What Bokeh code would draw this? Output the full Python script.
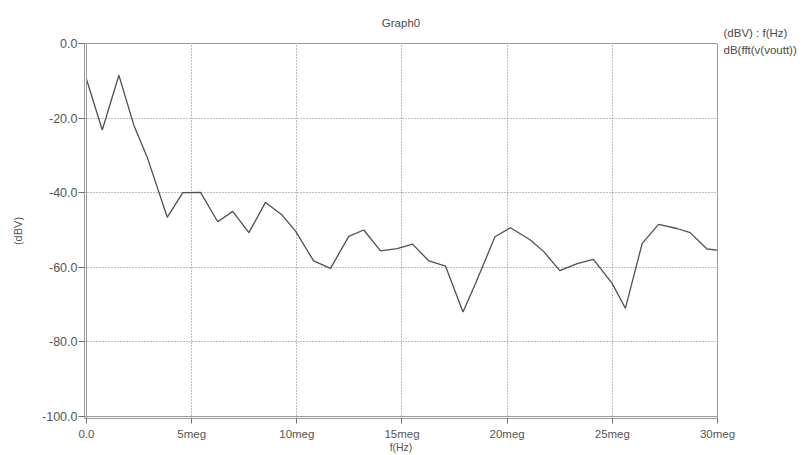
from bokeh.plotting import figure
from bokeh.models import FixedTicker, Span, Label, ColumnDataSource, Range1d
from bokeh.embed import file_html
from bokeh.resources import INLINE

# ---- data (frequency in MHz, level in dBV) ----
freq_meg = [0.0, 0.75, 1.54, 2.25, 2.88, 3.84, 4.58, 5.42, 6.24, 6.95,
            7.72, 8.51, 9.3, 9.94, 10.8, 11.6, 12.47, 13.18, 13.98, 14.77,
            15.5, 16.28, 17.07, 17.9, 18.5, 19.42, 20.16, 21.1, 21.74, 22.5,
            23.33, 24.1, 24.99, 25.62, 26.42, 27.2, 28.07, 28.7, 29.5, 30.0]
dbv = [-9.6, -23.2, -8.5, -21.9, -30.4, -46.6, -40.0, -39.9, -47.8, -45.0,
       -50.7, -42.6, -46.0, -50.3, -58.3, -60.3, -51.7, -50.0, -55.6, -55.0,
       -53.8, -58.3, -59.7, -72.0, -64.3, -51.8, -49.4, -52.7, -55.8, -60.9,
       -59.0, -57.9, -64.3, -71.0, -53.6, -48.5, -49.6, -50.7, -55.1, -55.4]

x_ticks = [0, 5, 10, 15, 20, 25, 30]
x_tick_labels = ["0.0", "5meg", "10meg", "15meg", "20meg", "25meg", "30meg"]
y_ticks = [-100, -80, -60, -40, -20, 0]
y_tick_labels = ["-100.0", "-80.0", "-60.0", "-40.0", "-20.0", "0.0"]

title_text = "Graph0"
x_label = "f(Hz)"
y_label = "(dBV)"
legend_title = "(dBV) : f(Hz)"
legend_item = "dB(fft(v(voutt))"

FONT = "Liberation Sans"
TXT = "#4a4a4a"
FRAME = "#9a9a9a"

p = figure(width=807, height=455, output_backend="svg", toolbar_location=None,
           x_range=Range1d(-0.095, 30), y_range=Range1d(-100.54, 0),
           min_border_left=84, min_border_right=90, min_border_top=43,
           min_border_bottom=37)

p.title.text = title_text
p.title.align = "center"
p.title.vertical_align = "top"
p.title.text_font = FONT
p.title.text_font_size = "11.5px"
p.title.text_font_style = "normal"
p.title.text_color = TXT
p.title.standoff = 26

p.outline_line_color = FRAME
p.outline_line_width = 1
p.background_fill_color = "white"
p.border_fill_color = "white"

src = ColumnDataSource(dict(x=freq_meg, y=dbv))
p.line("x", "y", source=src, line_color="#505050", line_width=1.3)

# axes
xa = p.xaxis[0]
xa.ticker = FixedTicker(ticks=x_ticks)
xa.major_label_overrides = {t: l for t, l in zip(x_ticks, x_tick_labels)}
ya = p.yaxis[0]
ya.ticker = FixedTicker(ticks=y_ticks)
ya.major_label_overrides = {t: l for t, l in zip(y_ticks, y_tick_labels)}

for ax in (xa, ya):
    ax.axis_line_color = FRAME
    ax.axis_line_width = 1
    ax.major_tick_line_color = "#707070"
    ax.major_tick_in = 0
    ax.major_tick_out = 6
    ax.minor_tick_line_color = None
    ax.major_label_text_font = FONT
    ax.major_label_text_color = "#555555"
    ax.axis_label_text_font = FONT
    ax.axis_label_text_font_style = "normal"
    ax.axis_label_text_color = "#555555"

xa.major_tick_out = 5
xa.major_label_standoff = 4
xa.major_label_text_font_size = "11.5px"
xa.axis_label = x_label
xa.axis_label_text_font_size = "10.5px"
xa.axis_label_standoff = -2

ya.major_label_standoff = 1
ya.major_label_text_font_size = "12.5px"
ya.axis_label = y_label
ya.axis_label_text_font_size = "11px"
ya.axis_label_standoff = 15

# grid
for g in (p.xgrid[0], p.ygrid[0]):
    g.grid_line_color = "#7a7a7a"
    g.grid_line_dash = "1 2"
    g.grid_line_width = 1
p.xgrid[0].ticker = FixedTicker(ticks=x_ticks)
p.ygrid[0].ticker = FixedTicker(ticks=y_ticks)

# inner line of the double frame (left and bottom)
p.add_layout(Span(location=0, dimension="height", line_color=FRAME, line_width=1))
p.add_layout(Span(location=-100, dimension="width", line_color=FRAME, line_width=1))

# legend block in the right-hand panel (one two-line label)
p.add_layout(Label(x=6, y=392, x_units="screen", y_units="screen",
                   text=legend_title + "\n" + legend_item,
                   text_font=FONT, text_font_size="11.5px", text_color=TXT,
                   text_line_height=1.43,
                   text_align="left", text_baseline="top"), "right")

open("out.html", "w").write(file_html(p, INLINE))
